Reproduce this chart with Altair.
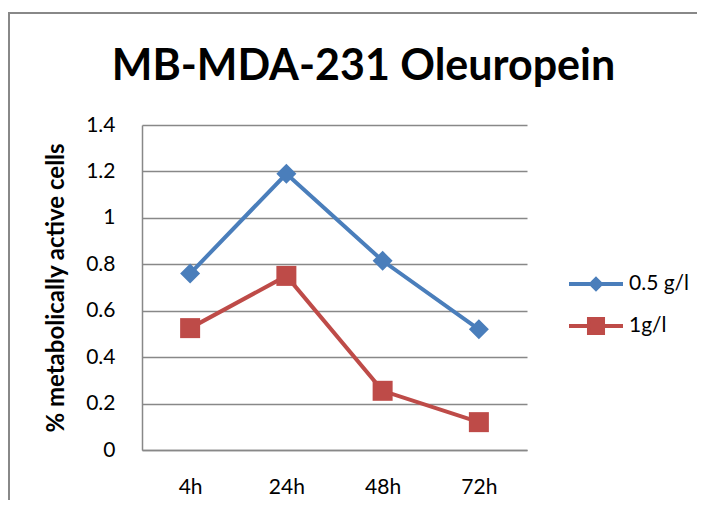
import altair as alt
import pandas as pd

# ---- data ----
times = ["4h", "24h", "48h", "72h"]
series_names = ["0.5 g/l", "1g/l"]
values_05 = [0.76, 1.19, 0.815, 0.52]
values_1 = [0.525, 0.75, 0.255, 0.12]
y_ticks = [0, 0.2, 0.4, 0.6, 0.8, 1.0, 1.2, 1.4]
colors = ["#4A7EBB", "#BE4B48"]

rows = []
for s, vals in zip(series_names, [values_05, values_1]):
    for t, v in zip(times, vals):
        rows.append({"time": t, "series": s, "series_legend": s, "value": v})
df = pd.DataFrame(rows)

FONT = "Lato"
GRID = "#888888"

x_enc = alt.X(
    "time:N", sort=times,
    scale=alt.Scale(type="point", padding=0.5),
    axis=alt.Axis(title=None, labelAngle=0, ticks=False, tickSize=0, grid=False,
                  domainColor=GRID, domainWidth=1.5, labelFont=FONT, labelFontSize=21,
                  labelColor="#000000", labelPadding=43, labelBaseline="alphabetic"),
)
y_enc = alt.Y(
    "value:Q",
    scale=alt.Scale(domain=[0, 1.4], nice=False, zero=True),
    axis=alt.Axis(values=y_ticks, format="~g", ticks=False, tickSize=0, grid=True,
                  gridColor=GRID, gridWidth=1.5, domainColor=GRID, domainWidth=1.5,
                  labelFont=FONT, labelFontSize=21, labelColor="#000000", labelPadding=27,
                  title="% metabolically active cells", titleFont=FONT, titleFontSize=24,
                  titleFontWeight="bold", titleColor="#000000", titleX=-79, titleY=162.5,
                  titleAlign="center", titleBaseline="alphabetic", titleAngle=270),
)

# legend symbols: a line segment with the series marker on it
diamond_path = "M-1,0H1M0,-0.18L0.18,0L0,0.18L-0.18,0Z"
square_path = "M-1,0H1M-0.26,-0.26H0.26V0.26H-0.26Z"

legend = alt.Legend(
    title=None, orient="none", legendX=425, legendY=130, padding=0,
    symbolSize=2916, rowPadding=-6, labelOffset=4, labelFont=FONT,
    labelFontSize=21, labelColor="#000000", symbolStrokeWidth=4, symbolOpacity=1,
)

color_enc = alt.Color("series:N", scale=alt.Scale(domain=series_names, range=colors), legend=None)

base = alt.Chart(df)

lines = base.mark_line(strokeWidth=4).encode(x=x_enc, y=y_enc, color=color_enc, detail="series:N")
points = base.mark_point(filled=True, size=400, opacity=1).encode(
    x=x_enc, y=y_enc, color=color_enc,
    shape=alt.Shape("series:N", scale=alt.Scale(domain=series_names, range=["diamond", "square"]), legend=None),
)

legend_layer = base.mark_point(strokeWidth=4, opacity=1).encode(
    fill=alt.Fill("series_legend:N", scale=alt.Scale(domain=series_names, range=colors), legend=legend),
    stroke=alt.Stroke("series_legend:N", scale=alt.Scale(domain=series_names, range=colors), legend=legend),
    shape=alt.Shape("series_legend:N", scale=alt.Scale(domain=series_names, range=[diamond_path, square_path]), legend=legend),
).transform_filter("false")

frame = alt.Chart(alt.Data(values=[{}])).mark_rect(fill=None, stroke="#888888", strokeWidth=2).encode(
    x=alt.value(-133), x2=alt.value(2000), y=alt.value(-112), y2=alt.value(2000)
)

chart = alt.layer(frame, lines, points, legend_layer).resolve_scale(
    shape="independent", fill="independent", stroke="independent"
).properties(
    width=385, height=325,
    title=alt.TitleParams("MB-MDA-231 Oleuropein", font=FONT, fontSize=43, fontWeight="bold",
                          color="#000000", anchor="middle", dx=29, offset=-111, baseline="alphabetic"),
    autosize=alt.AutoSizeParams(type="none"),
    padding={"left": 134, "top": 117, "right": 170, "bottom": 50},
    background="white",
).configure_view(stroke=None)

chart.save("out.html", embed_options={"renderer": "svg", "actions": False})
